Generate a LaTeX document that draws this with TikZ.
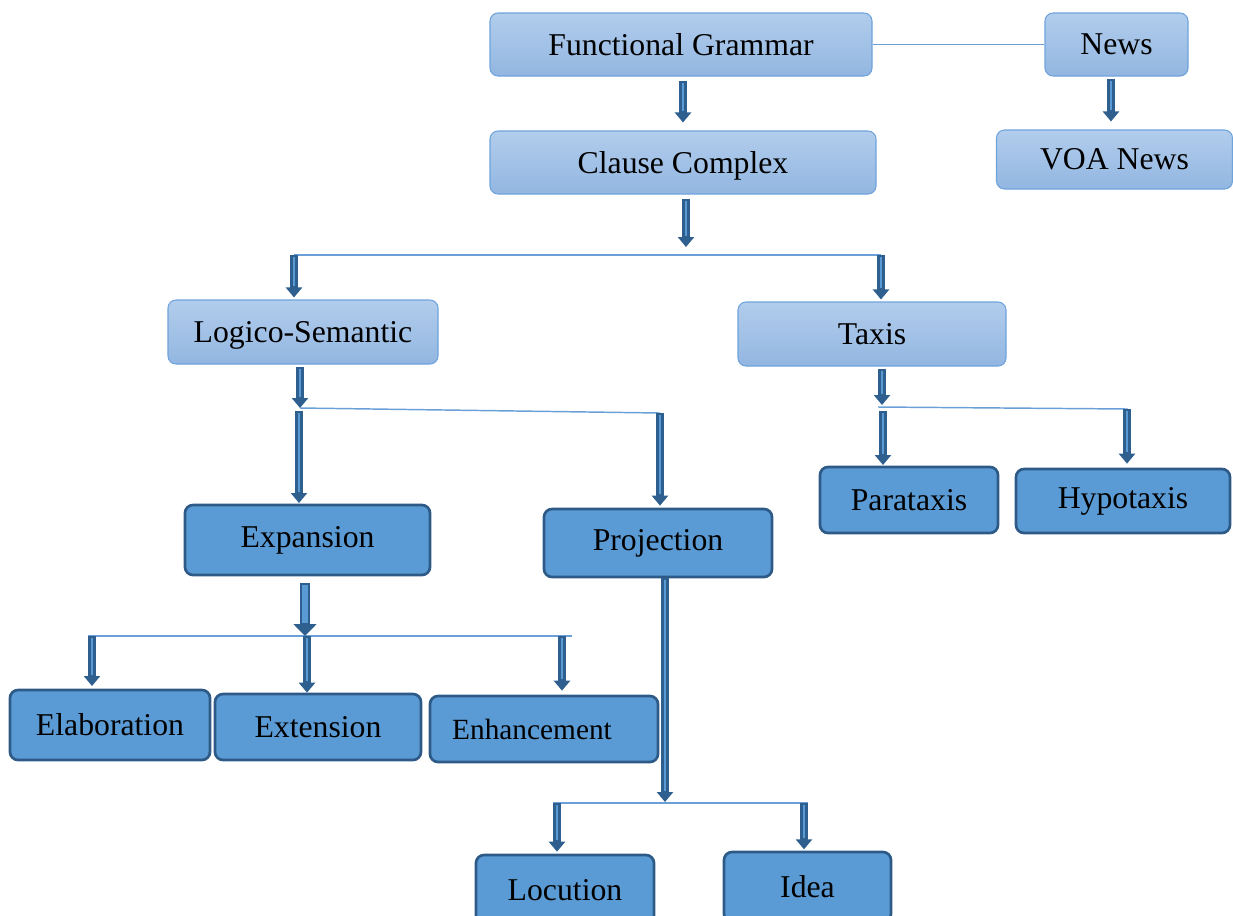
\documentclass[tikz,border=0pt]{standalone}
\usepackage{fontspec}
\setmainfont{Liberation Serif}
\usetikzlibrary{arrows.meta}
\definecolor{lighttop}{HTML}{B2CDEC}
\definecolor{lightbot}{HTML}{92B6E1}
\definecolor{lightborder}{HTML}{6FA3DC}
\definecolor{darkfill}{HTML}{5B9BD5}
\definecolor{darkborder}{HTML}{2E5A88}
\definecolor{arrdark}{HTML}{2E5F8F}
\definecolor{arrfill}{HTML}{5B9BD5}
\definecolor{thinline}{HTML}{6A9FD8}
\begin{document}
\begin{tikzpicture}[x=0.75pt,y=-0.75pt,
  lightbox/.style={draw=lightborder, line width=0.8pt, rounded corners=6pt,
    top color=lighttop, bottom color=lightbot, inner sep=0pt,
    font=\fontsize{23.8}{28}\selectfont, text=black, text depth=0.5pt},
  darkbox/.style={draw=darkborder, line width=2pt, rounded corners=6pt,
    fill=darkfill, inner sep=0pt, font=\fontsize{23.8}{28}\selectfont, text=black},
  barrow/.style={line width=6pt, draw=arrdark,
    -{Triangle[length=7.5pt,width=12pt]},
    postaction={draw=arrfill, line width=2.2pt, -, shorten >=8.5pt, shorten <=1.6pt}},
  bigarrow/.style={line width=8pt, draw=arrdark,
    -{Triangle[length=9pt,width=17pt]},
    postaction={draw=arrfill, line width=4pt, -, shorten >=10pt, shorten <=1.6pt}},
  thin/.style={draw=thinline, line width=1.1pt}]
\useasboundingbox (0,0) rectangle (1233,915);

% light boxes
\node[lightbox, minimum width=382*0.75pt, minimum height=63*0.75pt] (fg) at (681,44.5) {Functional Grammar};
\node[lightbox, minimum width=143*0.75pt, minimum height=63*0.75pt] (news) at (1116.5,44.5) {News};
\node[lightbox, minimum width=386*0.75pt, minimum height=63*0.75pt] (cc) at (683,162.5) {Clause Complex};
\node[lightbox, minimum width=236*0.75pt, minimum height=59*0.75pt] (voa) at (1114.5,159.5) {VOA News};
\node[lightbox, minimum width=270*0.75pt, minimum height=64*0.75pt] (logico) at (303,332) {Logico-Semantic};
\node[lightbox, minimum width=268*0.75pt, minimum height=64*0.75pt] (taxis) at (872,334) {Taxis};

% dark boxes
\node[darkbox, minimum width=245*0.75pt, minimum height=70*0.75pt] (exp) at (307.5,540) {Expansion};
\node[darkbox, minimum width=228*0.75pt, minimum height=68*0.75pt] (proj) at (658,543) {Projection};
\node[darkbox, minimum width=178*0.75pt, minimum height=66*0.75pt] (para) at (909,500) {Parataxis};
\node[darkbox, minimum width=214*0.75pt, minimum height=64*0.75pt] (hypo) at (1123,501) {Hypotaxis};
\node[darkbox, minimum width=200*0.75pt, minimum height=70*0.75pt] (elab) at (110,725) {Elaboration};
\node[darkbox, minimum width=206*0.75pt, minimum height=66*0.75pt] (ext) at (318,727) {Extension};
\node[darkbox, minimum width=228*0.75pt, minimum height=66*0.75pt, font=\fontsize{22}{26}\selectfont] (enh) at (544,729) {Enhancement\hspace*{18pt}};
\node[darkbox, minimum width=178*0.75pt, minimum height=70*0.75pt] (loc) at (565,890) {Locution};
\node[darkbox, minimum width=167*0.75pt, minimum height=70*0.75pt] (idea) at (807.5,887) {Idea};

% junction coordinates
\coordinate (a1) at (683,0);
\coordinate (a2) at (1111,0);
\coordinate (h1a) at (294,255);
\coordinate (h1b) at (881,255);
\coordinate (t1) at (686,247);
\coordinate (h2a) at (300,408);
\coordinate (h2b) at (660,413);
\coordinate (h3a) at (878,407);
\coordinate (h3b) at (1128,409);
\coordinate (t3) at (882,405);
\coordinate (h4a) at (88,636);
\coordinate (h4b) at (572,636);
\coordinate (t4) at (305,636);
\coordinate (h5a) at (553,803);
\coordinate (h5b) at (808,803);
\coordinate (t5) at (665,802);

% thin lines
\draw[thin] (fg.east) -- (news.west);
\draw[thin] (h1a) -- (h1b);
\draw[thin] (h2a) -- (h2b);
\draw[thin] (h3a) -- (h3b);
\draw[thin] (h4a) -- (h4b);
\draw[thin] (h5a) -- (h5b);

% block arrows
\draw[barrow] ([yshift=-3pt]a1 |- fg.south) -- ([yshift=6pt]a1 |- cc.north);
\draw[barrow] ([yshift=-1.5pt]a2 |- news.south) -- ([yshift=6pt]a2 |- voa.north);
\draw[barrow] ([yshift=-3pt]t1 |- cc.south) -- (t1);
\draw[barrow] (h1a) -- ([yshift=1.5pt]h1a |- logico.north);
\draw[barrow] (h1b) -- ([yshift=1.5pt]h1b |- taxis.north);
\draw[barrow] ([yshift=-1.5pt]h2a |- logico.south) -- (h2a);
\draw[barrow] ([yshift=-2pt]299,408) -- ([yshift=1.5pt]299,505);
\draw[barrow] (h2b) -- ([yshift=1.5pt]h2b |- proj.north);
\draw[barrow] ([yshift=-1.5pt]t3 |- taxis.south) -- (t3);
\draw[barrow] ([yshift=-2pt]883,408) -- ([yshift=1.5pt]883,467);
\draw[barrow] ([xshift=-0.75pt]h3b) -- ([xshift=-0.75pt,yshift=3pt]h3b |- hypo.north);
\draw[bigarrow] ([yshift=-5pt]t4 |- exp.south) -- (t4);
\draw[barrow] ([xshift=3pt]h4a) -- ([xshift=3pt,yshift=2pt]h4a |- elab.north);
\draw[barrow] (307,636) -- ([yshift=1pt]307,694);
\draw[barrow] ([xshift=-7.5pt]h4b) -- ([xshift=-7.5pt,yshift=3pt]h4b |- enh.north);
\draw[barrow] (t5 |- proj.south) -- (t5);
\draw[barrow] ([xshift=3pt]h5a) -- ([xshift=3pt,yshift=1.5pt]h5a |- loc.north);
\draw[barrow] ([xshift=-3pt]h5b) -- ([xshift=-3pt,yshift=1pt]h5b |- idea.north);
\end{tikzpicture}
\end{document}
